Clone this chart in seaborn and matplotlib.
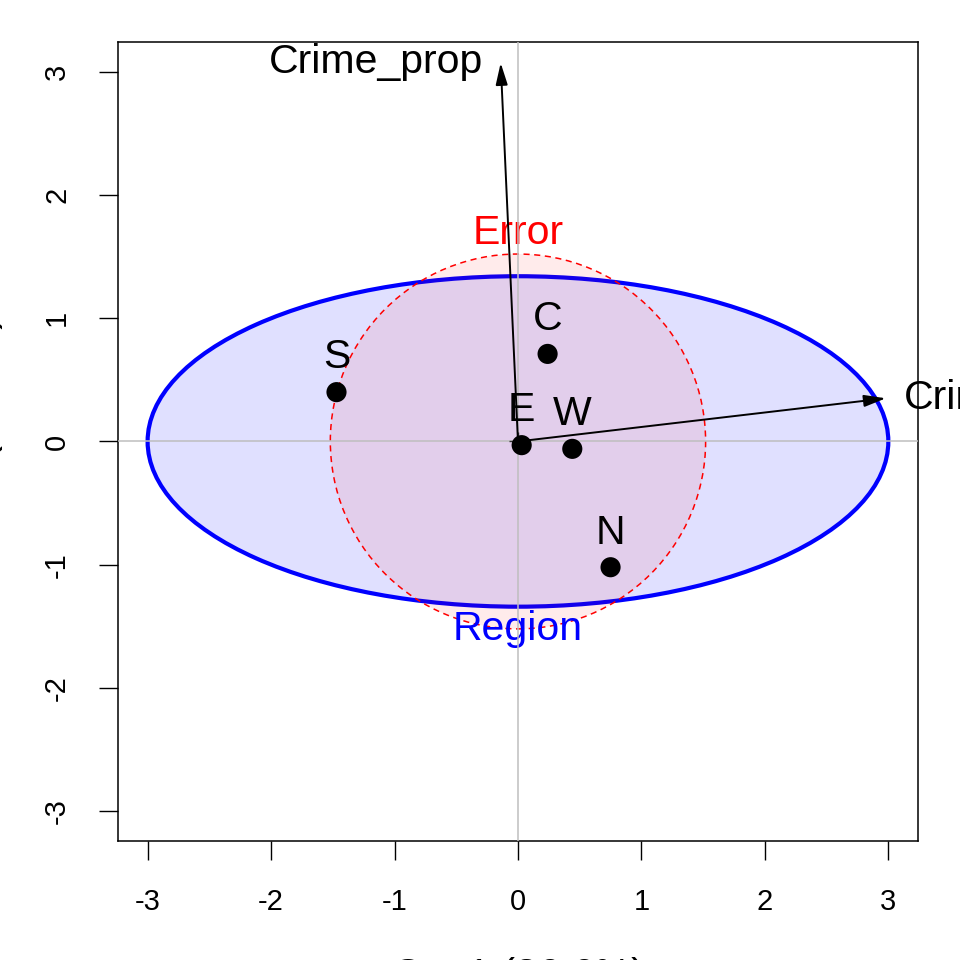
import numpy as np
import pandas as pd
import seaborn as sns
import matplotlib
matplotlib.use("Agg")
import matplotlib.pyplot as plt
from matplotlib.patches import Ellipse

# group means on the canonical axes
groups = ["S", "C", "E", "W", "N"]
can1 = [-1.47, 0.24, 0.03, 0.44, 0.75]
can2 = [0.40, 0.71, -0.03, -0.06, -1.02]

# variable vectors
var_names = ["Crime_pers", "Crime_prop"]
var_x = [2.98, -0.14]
var_y = [0.35, 3.07]

# H (Region) and E (Error) ellipses: semi-axes
region_axes = [3.0, 1.34]
error_axes = [1.52, 1.52]

ticks = [-3, -2, -1, 0, 1, 2, 3]


def main():
    sns.set_theme(style="white")
    plt.rcParams["font.family"] = ["Liberation Sans", "DejaVu Sans"]
    plt.rcParams["text.color"] = "black"
    plt.rcParams["xtick.color"] = "black"
    plt.rcParams["ytick.color"] = "black"

    fig = plt.figure(figsize=(9.6, 9.6), dpi=100)
    ax = fig.add_axes([0.1229, 0.124, 0.8333, 0.8323])

    # ellipses
    reg = Ellipse((0, 0), 2 * region_axes[0], 2 * region_axes[1],
                  facecolor=(0, 0, 1, 0.12), edgecolor="blue", lw=3, zorder=1)
    err = Ellipse((0, 0), 2 * error_axes[0], 2 * error_axes[1],
                  facecolor=(1, 0, 0, 0.08), edgecolor="red", lw=1.1,
                  linestyle=(0, (4, 3)), zorder=1.2)
    ax.add_patch(reg)
    ax.add_patch(err)
    ax.text(0, error_axes[1] + 0.17, "Error", color="red", fontsize=29.5,
            ha="center", va="center", zorder=2)
    ax.text(0, -region_axes[1] - 0.18, "Region", color="blue", fontsize=29.5,
            ha="center", va="center", zorder=2)

    # reference lines
    ax.axhline(0, color="#BEBEBE", lw=1.1, zorder=3)
    ax.axvline(0, color="#BEBEBE", lw=1.1, zorder=3)
    ax.plot([0], [0], marker="+", color="#333333", markersize=13, mew=1, zorder=3.5)

    # group means
    df = pd.DataFrame({"group": groups, "Can1": can1, "Can2": can2})
    sns.scatterplot(data=df, x="Can1", y="Can2", color="black", s=210,
                    edgecolor="none", ax=ax, zorder=4, legend=False)
    for g, x, y in zip(groups, can1, can2):
        ax.annotate(g, (x, y), xytext=(0, 25), textcoords="offset points",
                    ha="center", va="center", fontsize=29.5, zorder=5)

    # variable vectors
    for name, x, y in zip(var_names, var_x, var_y):
        ax.annotate("", xy=(x, y), xytext=(0, 0),
                    arrowprops=dict(arrowstyle="-|>,head_length=1.1,head_width=0.3",
                                    color="black", lw=1.4, shrinkA=0, shrinkB=0),
                    zorder=5)
        if x > abs(y):
            ax.annotate(name, (x, y), xytext=(13, 0), textcoords="offset points",
                        ha="left", va="center", fontsize=29.5, zorder=5,
                        annotation_clip=False)
        else:
            ax.annotate(name, (x, y), xytext=(-13, 1), textcoords="offset points",
                        ha="right", va="center", fontsize=29.5, zorder=5)

    ax.set_xlim(-3.24, 3.24)
    ax.set_ylim(-3.24, 3.24)
    ax.set_xticks(ticks)
    ax.set_yticks(ticks)
    ax.set_xticklabels([str(t) for t in ticks])
    ax.set_yticklabels([str(t) for t in ticks], rotation=90, va="center")
    ax.tick_params(direction="out", length=13.7, width=1, color="black",
                   labelsize=21, pad=20, bottom=True, left=True)
    for sp in ax.spines.values():
        sp.set_color("black")
        sp.set_linewidth(1.1)
    ax.set_xlabel("")
    ax.set_ylabel("")

    # axis titles (mostly outside the canvas, as in the original)
    fig.text(0.54, 1 - 957 / 960, "Can1 (86.6%)", fontsize=29.5, ha="center", va="top")
    fig.text(3 / 960, 0.54, "Can2 (13.4%)", fontsize=29.5, ha="right", va="center",
             rotation=90)

    fig.savefig("out.png", dpi=100)


if __name__ == "__main__":
    main()
